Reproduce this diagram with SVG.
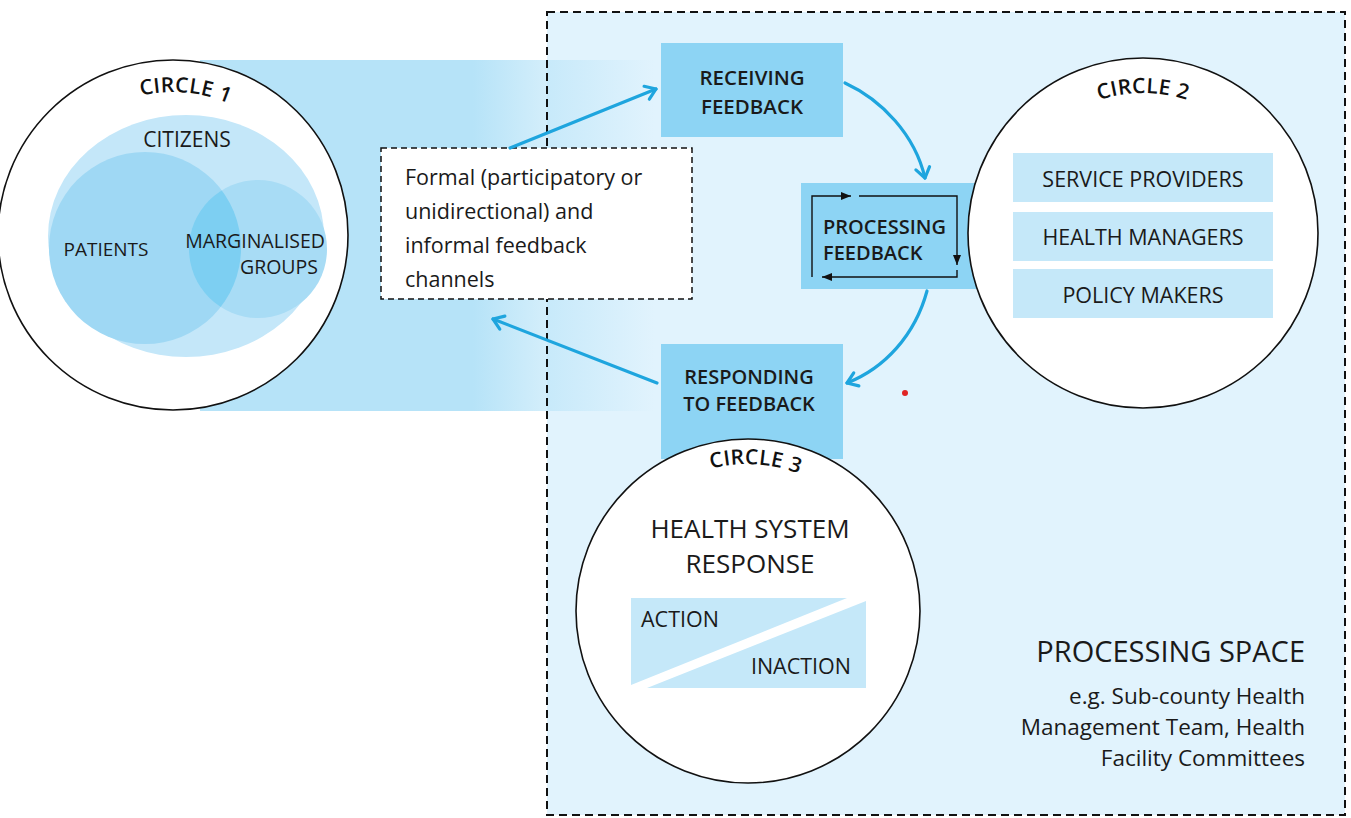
<svg xmlns="http://www.w3.org/2000/svg" width="1351" height="818" viewBox="0 0 1351 818">
<defs>
<style>
.t{font-family:"Open Sans","Noto Sans",sans-serif;fill:#1a1a1a}
.b{font-weight:600}
.lbl{font-family:"Open Sans","Noto Sans",sans-serif;font-weight:600;font-size:21px;fill:#111;letter-spacing:0.3px}
.ring{fill:#fff;stroke:#111;stroke-width:1.6}
.box{fill:#8dd4f4}
.row{fill:#c5e8f9}
.flow{fill:none;stroke:#1ea5de;stroke-width:3.2;stroke-linecap:round}
.loop{fill:none;stroke:#111;stroke-width:1.4}
</style>
<linearGradient id="band" gradientUnits="userSpaceOnUse" x1="200" y1="0" x2="655" y2="0">
<stop offset="0" stop-color="#b6e3f8"/>
<stop offset="0.6" stop-color="#b6e3f8"/>
<stop offset="1" stop-color="#b6e3f8" stop-opacity="0"/>
</linearGradient>
<marker id="chev" markerUnits="userSpaceOnUse" markerWidth="20" markerHeight="20" viewBox="0 0 20 20" refX="15" refY="10" orient="auto">
<path d="M5,3 L15,10 L5,17" fill="none" stroke="#1ea5de" stroke-width="3.2" stroke-linecap="round" stroke-linejoin="round"/>
</marker>
<marker id="tri" markerUnits="userSpaceOnUse" markerWidth="12" markerHeight="12" viewBox="0 0 12 12" refX="10" refY="6" orient="auto">
<path d="M0,2 L10,6 L0,10 Z" fill="#111"/>
</marker>
<path id="arc1" d="M81.1,125.5 A143,143 0 0,1 282.5,143.1"/>
<path id="arc2" d="M1044,134 A140,140 0 0,1 1242,134"/>
<path id="arc3" d="M649,502 A146,146 0 0,1 857,514"/>
<clipPath id="c1"><circle cx="173" cy="235" r="175"/></clipPath>
<clipPath id="cm"><circle cx="258" cy="249" r="69"/></clipPath>
</defs>
<rect width="1351" height="818" fill="#fff"/>
<g id="processing-space">
<rect x="547" y="12" width="798" height="803" fill="#e1f3fd"/>
</g>
<rect id="band-left" x="200" y="60" width="455" height="351" fill="url(#band)"/>
<rect x="547" y="12" width="798" height="803" fill="none" stroke="#111" stroke-width="2" stroke-dasharray="8,5"/>
<g id="channels">
<rect x="381" y="148" width="311" height="151" fill="#fff" stroke="#111" stroke-width="1.5" stroke-dasharray="6,4"/>
<text class="t" font-size="21.5" x="405" y="185">Formal (participatory or</text>
<text class="t" font-size="21.5" x="405" y="219">unidirectional) and</text>
<text class="t" font-size="21.5" x="405" y="253">informal feedback</text>
<text class="t" font-size="21.5" x="405" y="287">channels</text>
</g>
<g id="receiving">
<rect class="box" x="661" y="43" width="182" height="94"/>
<text class="t b" font-size="20.5" x="752" y="85" text-anchor="middle">RECEIVING</text>
<text class="t b" font-size="20.5" x="752" y="114" text-anchor="middle">FEEDBACK</text>
</g>
<g id="processing">
<rect class="box" x="801" y="183" width="180" height="106"/>
<path class="loop" d="M812,277 V196 H851" marker-end="url(#tri)"/>
<path class="loop" d="M859,196 H957 V265" marker-end="url(#tri)"/>
<path class="loop" d="M957,270 V277 H822" marker-end="url(#tri)"/>
<text class="t b" font-size="20" x="823" y="234">PROCESSING</text>
<text class="t b" font-size="20" x="823" y="260">FEEDBACK</text>
</g>
<g id="responding">
<rect class="box" x="661" y="344" width="182" height="115"/>
<text class="t b" font-size="20" x="749" y="384" text-anchor="middle">RESPONDING</text>
<text class="t b" font-size="20" x="749" y="411" text-anchor="middle">TO FEEDBACK</text>
</g>
<g id="connectors">
<path class="flow" d="M510,148 L656,89" marker-end="url(#chev)"/>
<path class="flow" d="M845,83 C882,100 915,135 925,178" marker-end="url(#chev)"/>
<path class="flow" d="M927,291 C915,335 885,368 847,383" marker-end="url(#chev)"/>
<path class="flow" d="M657,383 L493,319" marker-end="url(#chev)"/>
</g>
<circle cx="905" cy="393" r="3" fill="#e02424"/>
<g id="circle1">
<circle class="ring" cx="173" cy="235" r="175"/>
<g clip-path="url(#c1)">
<ellipse cx="186" cy="236" rx="138" ry="121" fill="#c4e7f9"/>
<circle cx="145" cy="248" r="96" fill="#9fd8f4"/>
<circle cx="258" cy="249" r="69" fill="#a8dcf5"/>
<circle cx="145" cy="248" r="96" fill="#7dcff2" clip-path="url(#cm)"/>
</g>
<text class="lbl"><textPath href="#arc1" startOffset="50%" text-anchor="middle">CIRCLE 1</textPath></text>
<text class="t" font-size="21" x="187" y="147" text-anchor="middle">CITIZENS</text>
<text class="t" font-size="19" x="106" y="256" text-anchor="middle">PATIENTS</text>
<text class="t" font-size="19.5" x="325" y="248" text-anchor="end">MARGINALISED</text>
<text class="t" font-size="19.5" x="318" y="274" text-anchor="end">GROUPS</text>
</g>
<g id="circle2">
<circle class="ring" cx="1143" cy="233" r="175"/>
<text class="lbl"><textPath href="#arc2" startOffset="50%" text-anchor="middle">CIRCLE 2</textPath></text>
<rect class="row" x="1013" y="153" width="260" height="49"/>
<rect class="row" x="1013" y="212" width="260" height="49"/>
<rect class="row" x="1013" y="269" width="260" height="49"/>
<text class="t" font-size="21.5" x="1143" y="187" text-anchor="middle">SERVICE PROVIDERS</text>
<text class="t" font-size="21.5" x="1143" y="245" text-anchor="middle">HEALTH MANAGERS</text>
<text class="t" font-size="21.5" x="1143" y="303" text-anchor="middle">POLICY MAKERS</text>
</g>
<g id="circle3">
<circle class="ring" cx="748" cy="611" r="172"/>
<text class="lbl"><textPath href="#arc3" startOffset="50%" text-anchor="middle">CIRCLE 3</textPath></text>
<text class="t" font-size="26" x="750" y="538" text-anchor="middle">HEALTH SYSTEM</text>
<text class="t" font-size="26" x="750" y="573" text-anchor="middle">RESPONSE</text>
<polygon class="row" points="631,598 847,598 631,685"/>
<polygon class="row" points="866,601 866,688 647,688"/>
<text class="t" font-size="21.5" x="641" y="627">ACTION</text>
<text class="t" font-size="21.5" x="851" y="674" text-anchor="end">INACTION</text>
</g>
<g id="space-label">
<text class="t" font-size="29" x="1305" y="662" text-anchor="end">PROCESSING SPACE</text>
<text class="t" font-size="22.5" x="1305" y="704" text-anchor="end">e.g. Sub-county Health</text>
<text class="t" font-size="22.5" x="1305" y="735" text-anchor="end">Management Team, Health</text>
<text class="t" font-size="22.5" x="1305" y="766" text-anchor="end">Facility Committees</text>
</g>
</svg>
